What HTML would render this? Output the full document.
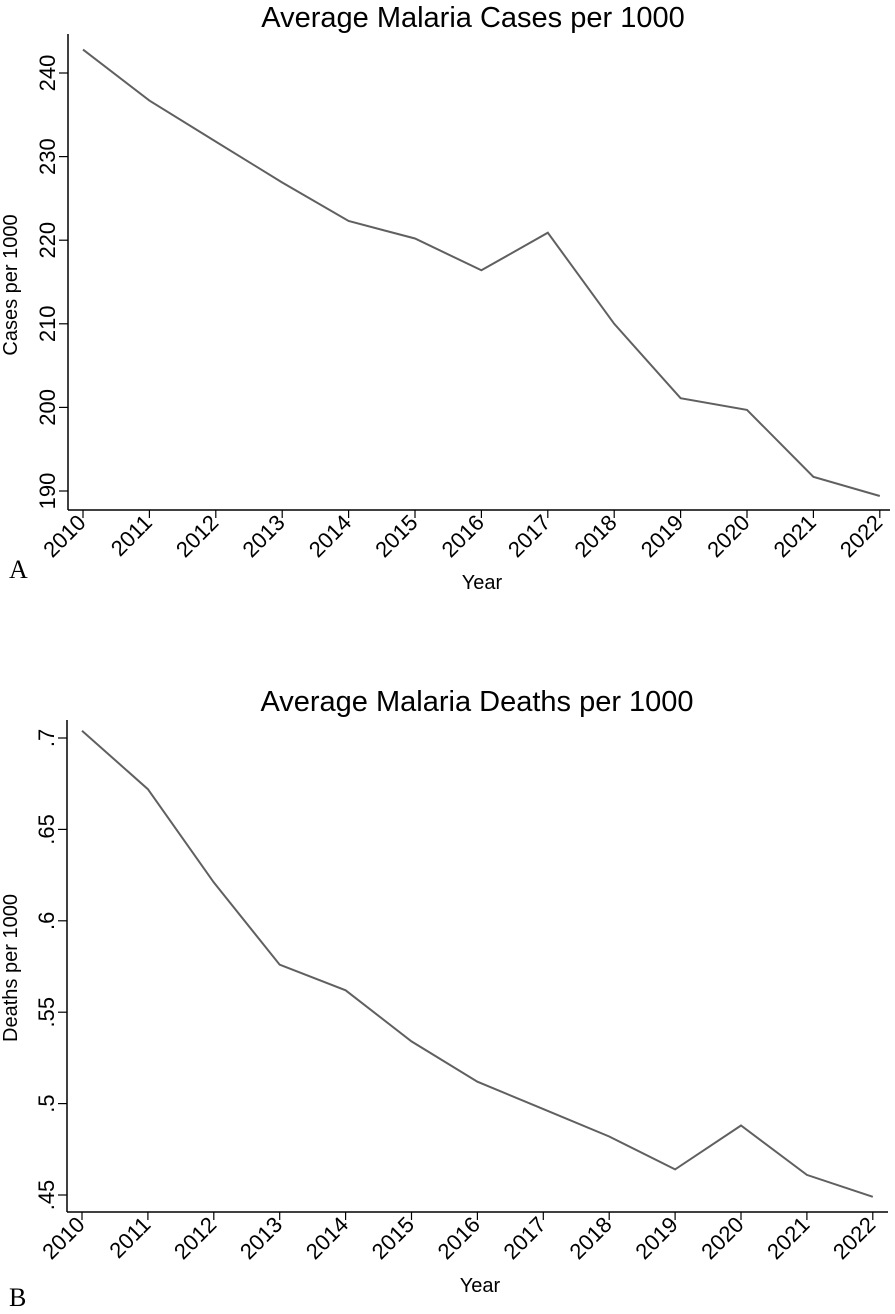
<!DOCTYPE html>
<html><head><meta charset="utf-8"><style>
html,body{margin:0;padding:0;background:#fff;}
svg{display:block;font-family:"Liberation Sans",Arial,sans-serif;}
</style></head><body>
<svg id="s" width="895" height="1314" viewBox="0 0 895 1314" xmlns="http://www.w3.org/2000/svg">
<text x="473" y="27" font-size="29" text-anchor="middle">Average Malaria Cases per 1000</text>
<text x="477" y="711" font-size="29" text-anchor="middle">Average Malaria Deaths per 1000</text>
<text x="482" y="589" font-size="20" text-anchor="middle">Year</text>
<text x="480" y="1292" font-size="20" text-anchor="middle">Year</text>
<text transform="translate(17,285) rotate(-90)" font-size="20" text-anchor="middle">Cases per 1000</text>
<text transform="translate(17,968) rotate(-90)" font-size="20" text-anchor="middle">Deaths per 1000</text>
<text x="9" y="578" font-size="26" font-family="Liberation Serif,serif">A</text>
<text x="9" y="1306" font-size="26" font-family="Liberation Serif,serif">B</text>
<g id="g"></g>
</svg>
<script>
var g=document.getElementById('g'),h='';
function chart(o){
 h+='<line x1="'+o.ax+'" y1="'+o.top+'" x2="'+o.ax+'" y2="'+o.ay+'" stroke="#000" stroke-width="1.5"/>';
 h+='<line x1="'+o.ax+'" y1="'+o.ay+'" x2="'+o.right+'" y2="'+o.ay+'" stroke="#000" stroke-width="1.5"/>';
 for(var i=0;i<13;i++){var x=o.x0+i*o.dx;
  h+='<line x1="'+x+'" y1="'+o.ay+'" x2="'+x+'" y2="'+(o.ay+8)+'" stroke="#000" stroke-width="1.2"/>';
  h+='<text transform="translate('+(x+4)+','+(o.ay+14)+') rotate(-45)" font-size="22" text-anchor="end">'+(2010+i)+'</text>';}
 o.yt.forEach(function(t){var y=o.yv(t[0]);
  h+='<line x1="'+(o.ax-9)+'" y1="'+y+'" x2="'+o.ax+'" y2="'+y+'" stroke="#000" stroke-width="1.2"/>';
  h+='<text transform="translate('+(o.ax-13)+','+y+') rotate(-90)" font-size="22" text-anchor="middle">'+t[1]+'</text>';});
 var p=o.d.map(function(v,i){return (o.x0+i*o.dx).toFixed(1)+','+o.yv(v).toFixed(1)}).join(' ');
 h+='<polyline points="'+p+'" fill="none" stroke="#606060" stroke-width="2"/>';
}
chart({ax:68,ay:510,top:34,right:890,x0:83,dx:66.4,
 yv:function(v){return 491-(v-190)*8.36},
 yt:[[190,'190'],[200,'200'],[210,'210'],[220,'220'],[230,'230'],[240,'240']],
 d:[242.8,236.7,231.8,226.9,222.3,220.2,216.4,220.9,210,201.1,199.7,191.7,189.4]});
chart({ax:67,ay:1212,top:720,right:888,x0:82,dx:65.9,
 yv:function(v){return 1195-(v-0.45)*1828},
 yt:[[.45,'.45'],[.5,'.5'],[.55,'.55'],[.6,'.6'],[.65,'.65'],[.7,'.7']],
 d:[.704,.672,.621,.576,.562,.534,.512,.497,.482,.464,.488,.461,.449]});
g.innerHTML=h;
</script>
</body></html>
